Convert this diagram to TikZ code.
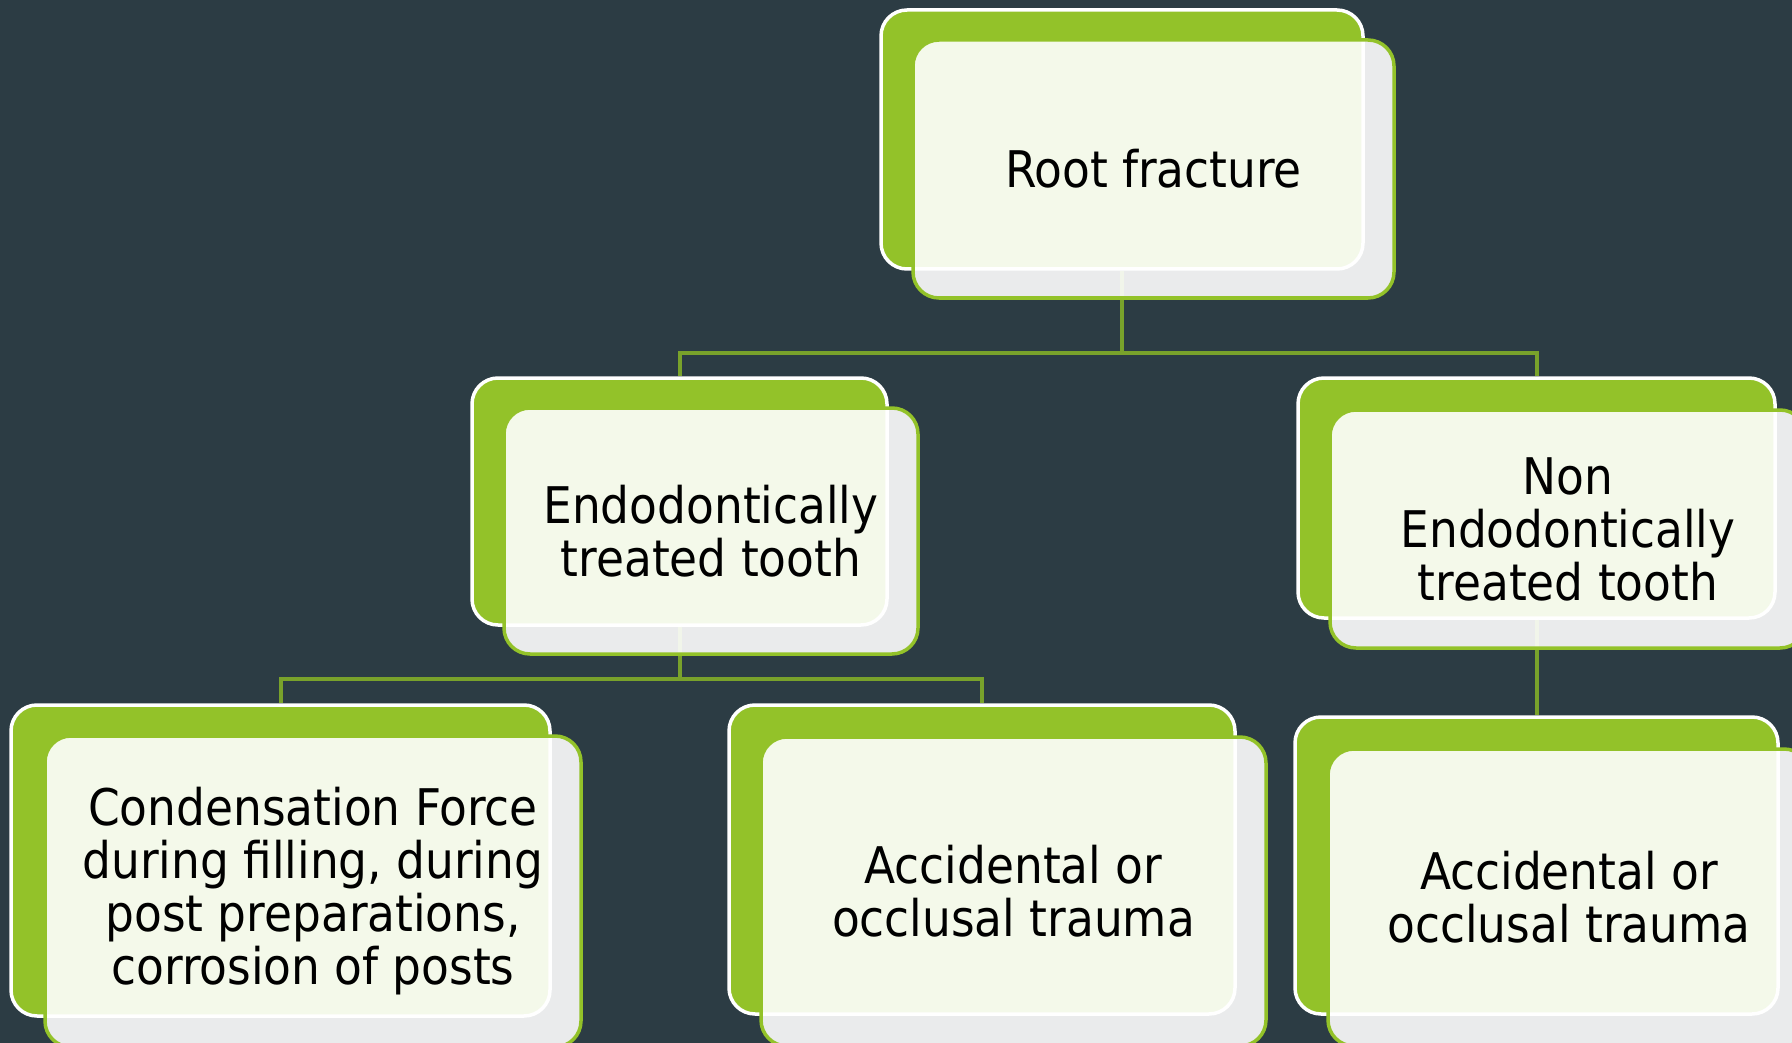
\documentclass[tikz,border=0pt]{standalone}
\usepackage{fontspec}
\setmainfont{DejaVu Sans Condensed}
\definecolor{slate}{HTML}{2C3C44}
\definecolor{leaf}{HTML}{93C229}
\definecolor{stem}{HTML}{79A22B}
\tikzset{
  backcard/.style={rectangle, rounded corners=26pt, fill=leaf, draw=white, line width=3.5pt},
  frontcard/.style={rectangle, rounded corners=26pt, fill=white, fill opacity=0.9, text opacity=1,
    draw=leaf, line width=3.5pt, align=center, text=black,
    font=\fontsize{50.5}{53}\selectfont},
  link/.style={draw=stem, line width=4pt}
}
\begin{document}
\begin{tikzpicture}[x=1pt, y=-1pt]
\fill[slate] (0,0) rectangle (1792,1043);
\useasboundingbox (0,0) rectangle (1792,1043);
% back cards
\node[backcard, minimum width=482, minimum height=259] (rootB) at (1122,139.5){};
\node[backcard, minimum width=415, minimum height=247] (endoB) at (679.5,501.5){};
\node[backcard, minimum width=477, minimum height=240] (nonB) at (1536.5,498){};
\node[backcard, minimum width=539, minimum height=311] (condB) at (280.5,860.5){};
\node[backcard, minimum width=506, minimum height=309] (accB) at (982,859.5){};
\node[backcard, minimum width=483, minimum height=297] (acc2B) at (1536.5,865.5){};
% connectors
\coordinate (rootJ) at (1122,353);
\coordinate (endoJ) at (679.5,679);
\draw[link](rootB.south) -- (rootJ);
\draw[link](rootJ) -| (endoB.north);
\draw[link](rootJ) -| (nonB.north);
\draw[link](endoB.south) -- (endoJ);
\draw[link](endoJ) -| (condB.north);
\draw[link](endoJ) -| (accB.north);
\draw[link](nonB.south) -- (acc2B.north);
% front cards
\node[frontcard, minimum width=481, minimum height=258] (root) at (1153.5,169){Root fracture};
\node[frontcard, minimum width=414, minimum height=246] (endo) at (711,531){Endodontically\\treated tooth};
\node[frontcard, minimum width=476, minimum height=238] (non) at (1568,529){Non\\Endodontically\\treated tooth};
\node[frontcard, minimum width=536, minimum height=311] (cond) at (313,891.5){Condensation Force\\during filling, during\\post preparations,\\corrosion of posts};
\node[frontcard, minimum width=505, minimum height=309] (acc) at (1013.5,891.5){Accidental or\\occlusal trauma};
\node[frontcard, minimum width=482, minimum height=297] (acc2) at (1569,897.5){Accidental or\\occlusal trauma};
\end{tikzpicture}
\end{document}
